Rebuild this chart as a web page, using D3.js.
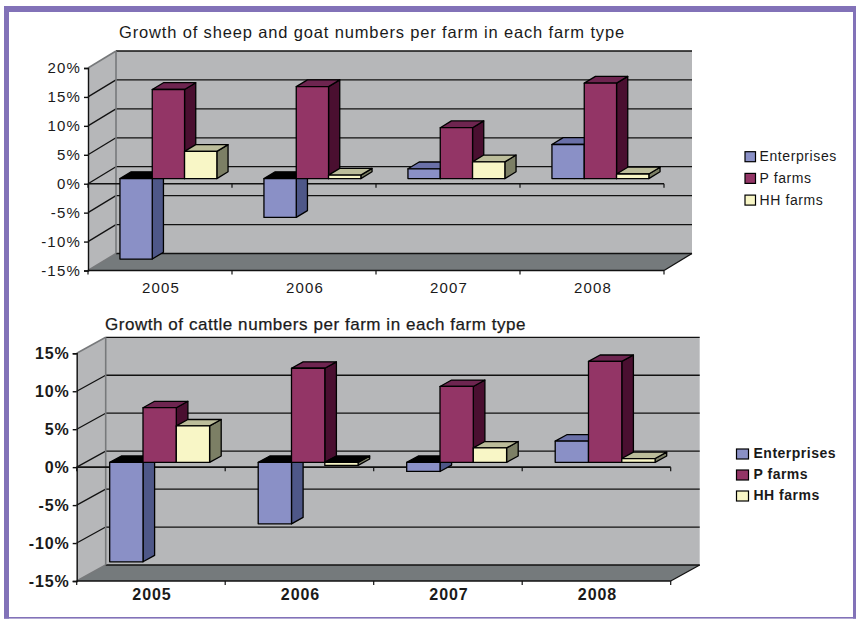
<!DOCTYPE html>
<html>
<head>
<meta charset="utf-8">
<script src="https://cdn.jsdelivr.net/npm/d3@7"></script>
<style>
  html, body { margin: 0; padding: 0; background: #fff; }
  svg { display: block; }
  text { font-family: "Liberation Sans", Arial, sans-serif; fill: #1a1a1a; }
</style>
</head>
<body>
<svg id="graph-box"></svg>
<script>
let years = ["2005", "2006", "2007", "2008"];
let seriesNames = ["Enterprises", "P farms", "HH farms"];

let sheepEnterprises = [-13.9, -6.7, 1.7, 5.9];
let sheepPFarms = [15.4, 15.9, 8.8, 16.5];
let sheepHHFarms = [4.7, 0.6, 2.9, 0.8];
let sheepTicks = [-15, -10, -5, 0, 5, 10, 15, 20];

let cattleEnterprises = [-13.1, -8.1, -1.2, 2.8];
let cattlePFarms = [7.2, 12.4, 10.0, 13.3];
let cattleHHFarms = [4.8, -0.4, 1.9, 0.5];
let cattleTicks = [-15, -10, -5, 0, 5, 10, 15];

let seriesColors = [
    {front: "#8a90c6", side: "#4e5788", top: "#6a70a8"},
    {front: "#933566", side: "#4a0f30", top: "#6e2550"},
    {front: "#f8f6c6", side: "#7c7f65", top: "#bcbd9a"}
];

let svgWidth = 856, svgHeight = 619;
let svg = d3.select("#graph-box")
    .attr("width", svgWidth)
    .attr("height", svgHeight);

// purple page frame, thin along the bottom
svg.append("rect").attr("x", 4).attr("y", 6).attr("width", 852).attr("height", 6).attr("fill", "#8272b8");
svg.append("rect").attr("x", 4).attr("y", 6).attr("width", 5).attr("height", 612.6).attr("fill", "#8272b8");
svg.append("rect").attr("x", 853).attr("y", 6).attr("width", 3).attr("height", 612.6).attr("fill", "#8272b8");
svg.append("rect").attr("x", 4).attr("y", 617).attr("width", 852).attr("height", 1.6).attr("fill", "#8272b8");

function drawChart(c) {
    let g = svg.append("g");
    let x = d3.scaleBand().domain(years).range([c.left, c.right]);
    let y = d3.scaleLinear().domain([c.ticks[0], c.ticks[c.ticks.length - 1]]).range([c.bottom, c.top]);
    let series = d3.scaleBand().domain(seriesNames)
        .range([0, c.barWidth * 3]);

    let yMin = y.domain()[0], yMax = y.domain()[1];

    // back wall, side wall and floor
    g.append("rect")
        .attr("x", c.left + c.depthX).attr("y", y(yMax) - c.depthY)
        .attr("width", c.right - c.left).attr("height", y(yMin) - y(yMax))
        .attr("fill", "#b6b7b9");
    g.append("path")
        .attr("d", d3.line()([
            [c.left, y(yMax)], [c.left + c.depthX, y(yMax) - c.depthY],
            [c.left + c.depthX, y(yMin) - c.depthY], [c.left, y(yMin)]
        ]) + "Z")
        .attr("fill", "#b6b7b9");
    g.append("path")
        .attr("d", d3.line()([
            [c.left, y(yMin)], [c.left + c.depthX, y(yMin) - c.depthY],
            [c.right + c.depthX, y(yMin) - c.depthY], [c.right, y(yMin)]
        ]) + "Z")
        .attr("fill", "#757a7c");

    // gridlines along the back wall and down the side wall
    c.ticks.forEach(function(t, i) {
        let edge = i === 0 || i === c.ticks.length - 1;
        g.append("path")
            .attr("d", d3.line()([[c.left, y(t)], [c.left + c.depthX, y(t) - c.depthY]]))
            .attr("fill", "none")
            .attr("stroke", edge ? "#77797b" : "#111")
            .attr("stroke-width", edge ? 1.6 : 1.3);
        g.append("line")
            .attr("x1", c.left + c.depthX).attr("x2", c.right + c.depthX)
            .attr("y1", y(t) - c.depthY).attr("y2", y(t) - c.depthY)
            .attr("stroke", "#111")
            .attr("stroke-width", 1.3);
    });
    g.append("line")
        .attr("x1", c.left + c.depthX).attr("x2", c.left + c.depthX)
        .attr("y1", y(yMax) - c.depthY).attr("y2", y(yMin) - c.depthY)
        .attr("stroke", "#77797b").attr("stroke-width", 1.6);
    g.append("path")
        .attr("d", d3.line()([[c.right, y(yMin)], [c.right + c.depthX, y(yMin) - c.depthY]]))
        .attr("stroke", "#111").attr("stroke-width", 1.3);

    // value axis on the front plane
    let yAxis = g.append("g")
        .attr("transform", "translate(" + c.left + ",0)")
        .call(d3.axisLeft(y).tickValues(c.ticks).tickFormat(function(d) { return d + "%"; }).tickSize(4).tickPadding(3));
    yAxis.selectAll("path,line").attr("stroke", "#111").attr("stroke-width", 1.4);
    yAxis.selectAll("text")
        .style("font-size", c.tickSize + "px")
        .style("font-weight", c.tickWeight)
        .style("letter-spacing", c.tickSpacing + "px")
        .attr("fill", "#1a1a1a");

    // category axis at zero and along the floor, ticks on the band edges
    let edges = years.map(function(d) { return x(d); }).concat([c.right]);
    [0, yMin].forEach(function(v) {
        g.append("line")
            .attr("x1", c.left).attr("x2", c.right)
            .attr("y1", y(v)).attr("y2", y(v))
            .attr("stroke", "#111").attr("stroke-width", 1.6);
        g.selectAll(null)
            .data(edges)
            .enter()
            .append("line")
            .attr("x1", function(d) { return d; }).attr("x2", function(d) { return d; })
            .attr("y1", y(v)).attr("y2", y(v) + 4)
            .attr("stroke", "#111").attr("stroke-width", 1.2);
    });
    let xAxis = g.append("g")
        .attr("transform", "translate(1," + y(yMin) + ")")
        .call(d3.axisBottom(x).tickSize(0).tickPadding(c.catPadding));
    xAxis.select(".domain").remove();
    xAxis.selectAll("text")
        .style("font-size", c.tickSize + "px")
        .style("font-weight", c.tickWeight)
        .style("letter-spacing", c.tickSpacing + "px")
        .attr("fill", "#1a1a1a");

    // bars, each one a front face with its side and top in perspective
    let offX = c.depthX * 0.3, offY = c.depthY * 0.3;
    let barX = c.depthX * 0.4, barY = c.depthY * 0.4;
    let sideGap = (x.bandwidth() - c.barWidth * 3) / 2;

    years.forEach(function(year, yi) {
        c.values.forEach(function(vals, si) {
            let v = vals[yi];
            let col = seriesColors[si];
            let x0 = x(year) + sideGap + offX + series(seriesNames[si]);
            let x1 = x0 + c.barWidth;
            let yBase = y(0) - offY;
            let yVal = y(v) - offY;
            let top = Math.min(yBase, yVal), bot = Math.max(yBase, yVal);
            let bar = g.append("g")
                .attr("stroke", "#000")
                .attr("stroke-width", 1.3)
                .attr("stroke-linejoin", "round");
            bar.append("path")
                .attr("d", d3.line()([[x1, top], [x1 + barX, top - barY], [x1 + barX, bot - barY], [x1, bot]]) + "Z")
                .attr("fill", col.side);
            bar.append("path")
                .attr("d", d3.line()([[x0, top], [x0 + barX, top - barY], [x1 + barX, top - barY], [x1, top]]) + "Z")
                .attr("fill", v < 0 ? "#000" : col.top);
            bar.append("rect")
                .attr("x", x0).attr("y", top)
                .attr("width", c.barWidth).attr("height", bot - top)
                .attr("fill", col.front);
        });
    });

    // title
    g.append("text")
        .text(c.title)
        .attr("x", c.titleX).attr("y", c.titleY)
        .style("font-size", c.titleSize + "px")
        .style("letter-spacing", c.titleSpacing + "px")
        .style("stroke", "#1a1a1a")
        .style("stroke-width", c.titleStroke);

    // legend
    let legend = g.selectAll(".legend")
        .data(seriesNames)
        .enter()
        .append("g")
        .attr("transform", function(d, i) { return "translate(" + c.legendX + "," + (c.legendY + i * c.legendStep) + ")"; });
    legend.append("rect")
        .attr("width", c.swatchW).attr("height", 10)
        .attr("fill", function(d, i) { return seriesColors[i].front; })
        .attr("stroke", "#000").attr("stroke-width", 1.2);
    legend.append("text")
        .text(function(d) { return d; })
        .attr("x", c.swatchW + c.legendGap).attr("y", c.legendText)
        .style("font-size", c.legendSize + "px")
        .style("font-weight", c.legendWeight)
        .style("letter-spacing", c.legendSpacing + "px");
}

drawChart({
    title: "Growth of sheep and goat numbers per farm in each farm type",
    titleX: 119, titleY: 38, titleSize: 16.5, titleSpacing: 0.85, titleStroke: 0,
    values: [sheepEnterprises, sheepPFarms, sheepHHFarms],
    ticks: sheepTicks,
    left: 88, right: 664, top: 68, bottom: 270.5,
    depthX: 28, depthY: 17, barWidth: 32.3,
    tickSize: 15, tickWeight: "normal", tickSpacing: 1.2, catPadding: 12,
    legendX: 745, legendY: 151.7, legendStep: 21.7, swatchW: 10.5,
    legendGap: 4, legendText: 9.5,
    legendSize: 14, legendWeight: "normal", legendSpacing: 0.6
});

drawChart({
    title: "Growth of cattle numbers per farm in each farm type",
    titleX: 105, titleY: 330, titleSize: 17, titleSpacing: 0.55, titleStroke: 0.25,
    values: [cattleEnterprises, cattlePFarms, cattleHHFarms],
    ticks: cattleTicks,
    left: 76.7, right: 670.7, top: 353.3, bottom: 581,
    depthX: 29, depthY: 16, barWidth: 33.3,
    tickSize: 16, tickWeight: "bold", tickSpacing: 0.9, catPadding: 8,
    legendX: 736.5, legendY: 449, legendStep: 21, swatchW: 12,
    legendGap: 5, legendText: 8.5,
    legendSize: 14, legendWeight: "bold", legendSpacing: 0.5
});
</script>
</body>
</html>
